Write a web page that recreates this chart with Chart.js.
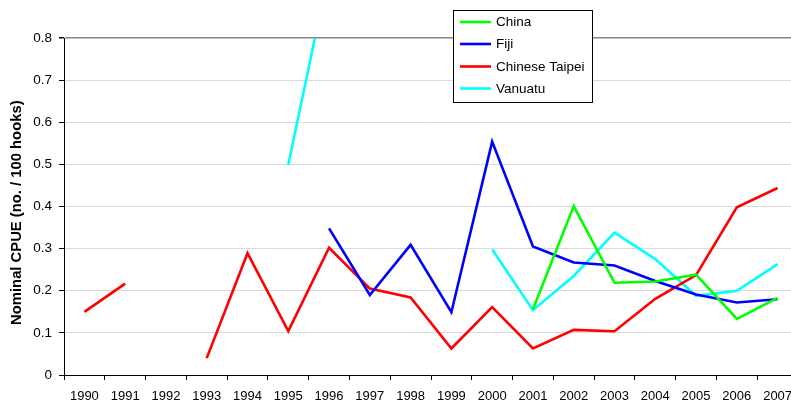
<!DOCTYPE html>
<html>
<head>
<meta charset="utf-8">
<script src="https://cdn.jsdelivr.net/npm/chart.js@4/dist/chart.umd.min.js"></script>
<style>
  html, body { margin: 0; padding: 0; background: #fff; overflow: hidden; }
  #wrap { width: 791px; height: 405px; overflow: hidden; position: relative; }
  canvas { display: block; }
</style>
</head>
<body>
<div id="wrap"><canvas id="cpue" width="810" height="405"></canvas></div>
<script>
const years = ["1990", "1991", "1992", "1993", "1994", "1995", "1996", "1997", "1998",
  "1999", "2000", "2001", "2002", "2003", "2004", "2005", "2006", "2007"];

const china = [null, null, null, null, null, null, null, null, null,
  null, null, 0.156, 0.401, 0.219, 0.222, 0.238, 0.133, 0.183];
const fiji = [null, null, null, null, null, null, 0.348, 0.190, 0.309,
  0.149, 0.554, 0.305, 0.267, 0.260, 0.223, 0.191, 0.172, 0.180];
const chineseTaipei = [0.150, 0.217, null, 0.040, 0.289, 0.104, 0.302, 0.205, 0.184,
  0.063, 0.161, 0.063, 0.107, 0.104, 0.181, 0.237, 0.398, 0.444];
const vanuatu = [null, null, null, null, null, 0.499, 0.96, null, null,
  null, 0.298, 0.154, 0.235, 0.338, 0.275, 0.188, 0.200, 0.263];

const yTicks = [0, 0.1, 0.2, 0.3, 0.4, 0.5, 0.6, 0.7, 0.8];

Chart.defaults.font.family = "'Liberation Sans', Arial, sans-serif";
Chart.defaults.font.size = 13;
Chart.defaults.color = "#000";

function series(label, data, color) {
  return {
    label,
    data,
    borderColor: color,
    backgroundColor: color,
    borderWidth: 2.6,
    pointRadius: 0,
    tension: 0,
    spanGaps: false
  };
}

// legend box drawn inside the plot, like the original
const boxLegend = {
  id: "boxLegend",
  afterDraw(chart) {
    const ctx = chart.ctx;
    const x = 453.5, y = 10.5, w = 139, h = 92;
    ctx.save();
    ctx.fillStyle = "#fff";
    ctx.fillRect(x, y, w, h);
    ctx.strokeStyle = "#000";
    ctx.lineWidth = 1;
    ctx.strokeRect(x, y, w, h);
    ctx.font = "13.5px 'Liberation Sans', Arial, sans-serif";
    ctx.textBaseline = "middle";
    const rows = [22, 44, 66.5, 88.5];
    chart.data.datasets.forEach((ds, i) => {
      ctx.strokeStyle = ds.borderColor;
      ctx.lineWidth = 2.6;
      ctx.beginPath();
      ctx.moveTo(460, rows[i]);
      ctx.lineTo(491, rows[i]);
      ctx.stroke();
      ctx.fillStyle = "#000";
      ctx.fillText(ds.label, 496, rows[i] + 0.5);
    });
    ctx.restore();
  }
};

new Chart(document.getElementById("cpue").getContext("2d"), {
  type: "line",
  data: {
    labels: years,
    datasets: [
      series("China", china, "#00ff00"),
      series("Fiji", fiji, "#0000ff"),
      series("Chinese Taipei", chineseTaipei, "#ff0000"),
      series("Vanuatu", vanuatu, "#00ffff")
    ]
  },
  options: {
    responsive: false,
    animation: false,
    events: [],
    layout: { padding: { top: 38, right: 12, left: 0, bottom: 0 } },
    plugins: {
      legend: { display: false },
      tooltip: { enabled: false }
    },
    scales: {
      x: {
        offset: true,
        grid: {
          offset: true,
          drawOnChartArea: false,
          drawTicks: true,
          tickLength: 5,
          tickColor: "#000"
        },
        border: { color: "#000", width: 1 },
        ticks: { padding: 9, maxRotation: 0, autoSkip: false, font: { size: 13 } },
        afterFit(scale) { scale.height = 30; }
      },
      y: {
        min: 0,
        max: 0.8,
        afterBuildTicks(scale) { scale.ticks = yTicks.map((v) => ({ value: v })); },
        grid: {
          color: (c) => (c.tick && c.tick.value === 0.8 ? "#868686" : "#d9d9d9"),
          lineWidth: (c) => (c.tick && c.tick.value === 0.8 ? 1.5 : 1),
          tickLength: 5,
          tickColor: "#000"
        },
        border: { color: "#000", width: 1 },
        ticks: {
          padding: 7,
          font: { size: 13.5 },
          callback: (v) => (v === 0 ? "0" : v.toFixed(1))
        },
        title: {
          display: true,
          text: "Nominal CPUE (no. / 100 hooks)   ",
          font: { size: 14.8, weight: "bold" },
          padding: { top: 8, bottom: 0 }
        },
        afterFit(scale) { scale.width = 64; }
      }
    }
  },
  plugins: [boxLegend]
});
</script>
</body>
</html>
